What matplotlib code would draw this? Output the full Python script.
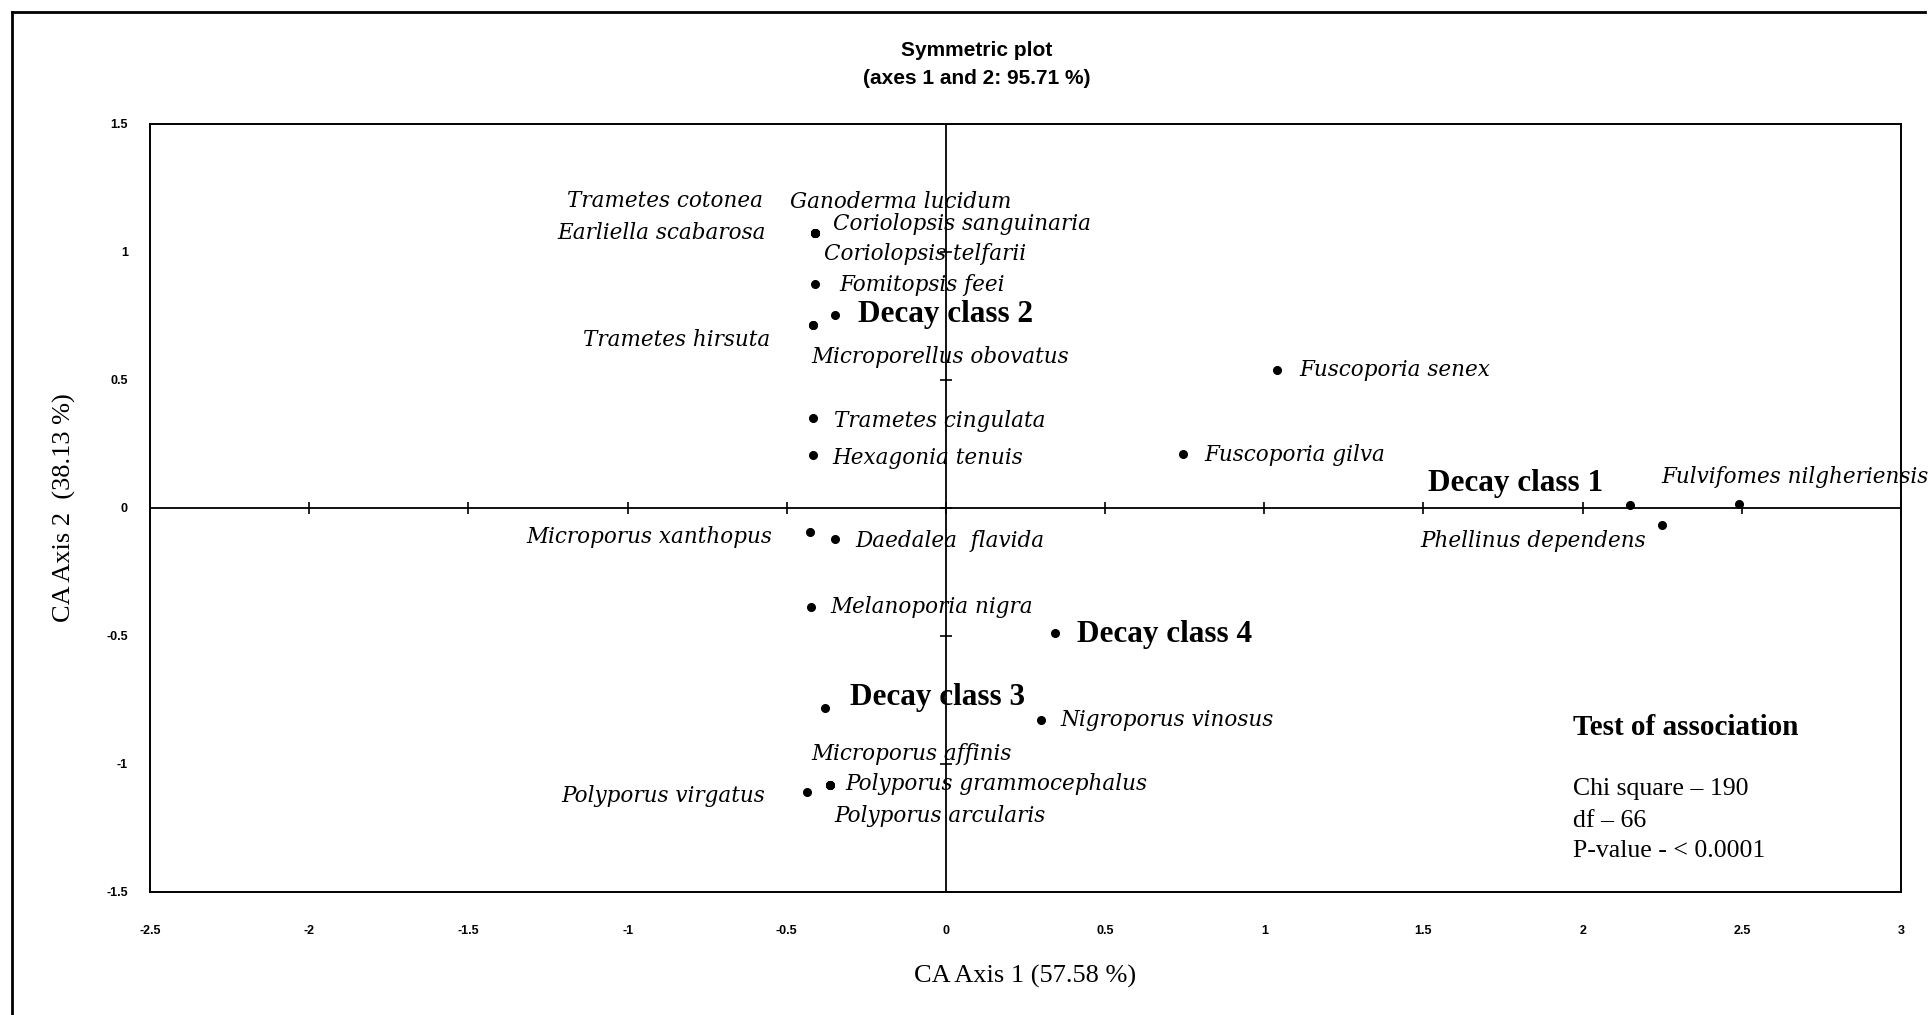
import numpy as np
import matplotlib
matplotlib.use("Agg")
import matplotlib.pyplot as plt
from matplotlib.lines import Line2D

# Correspondence analysis scores (axis 1, axis 2)
species = [
    "Trametes cotonea", "Earliella scabarosa", "Ganoderma lucidum",
    "Coriolopsis sanguinaria", "Coriolopsis telfarii", "Fomitopsis feei",
    "Trametes hirsuta", "Microporellus obovatus", "Trametes cingulata",
    "Hexagonia tenuis", "Fuscoporia senex", "Fuscoporia gilva",
    "Fulvifomes nilgheriensis", "Phellinus dependens", "Microporus xanthopus",
    "Daedalea  flavida", "Melanoporia nigra", "Nigroporus vinosus",
    "Microporus affinis", "Polyporus grammocephalus", "Polyporus arcularis",
    "Polyporus virgatus",
]
species_x = [-0.41, -0.41, -0.41, -0.41, -0.41, -0.41, -0.418, -0.418, -0.418,
             -0.418, 1.04, 0.745, 2.49, 2.25, -0.428, -0.347, -0.425, 0.30,
             -0.365, -0.365, -0.365, -0.437]
species_y = [1.075, 1.075, 1.075, 1.075, 1.075, 0.875, 0.715, 0.715, 0.352,
             0.207, 0.538, 0.212, 0.017, -0.065, -0.092, -0.122, -0.385, -0.827,
             -1.082, -1.082, -1.082, -1.11]

classes = ["Decay class 1", "Decay class 2", "Decay class 3", "Decay class 4"]
class_x = [2.15, -0.347, -0.38, 0.341]
class_y = [0.01, 0.755, -0.78, -0.49]

axis1_pct = 57.58
axis2_pct = 38.13
total_pct = 95.71
chi_square = 190
dof = 66
p_text = "< 0.0001"

xticks = np.arange(-2.5, 3.01, 0.5)
yticks = np.arange(-1.5, 1.51, 0.5)

# label placement: offset in points from the dot, horizontal alignment
species_offsets = [
    (-38, 23, "right"), (-36, 0, "right"), (-18, 22, "left"),
    (13, 6, "left"), (6, -15, "left"), (17, -1, "left"),
    (-31, -11, "right"), (-1, -23, "left"), (15, -2, "left"),
    (14, -2, "left"), (16, 0, "left"), (15, -1, "left"),
    (-56, 19, "left"), (-12, -12, "right"), (-27, -4, "right"),
    (14, -1, "left"), (14, 0, "left"), (14, 0, "left"),
    (-13, 22, "left"), (11, 1, "left"), (3, -22, "left"),
    (-30, -3, "right"),
]
class_offsets = [(-20, 16, "right"), (16, 0, "left"), (18, 7, "left"), (16, -1, "left")]

serif = "Liberation Serif"
wide_serif = "DejaVu Serif"
sans = "Liberation Sans"

fig = plt.figure(figsize=(19.29, 10.15), dpi=100)
ax = fig.add_axes([0.0778, 0.1212, 0.9077, 0.7567])

ax.set_xlim(xticks[0], xticks[-1])
ax.set_ylim(yticks[0], yticks[-1])
for s in ax.spines.values():
    s.set_linewidth(1.4)
    s.set_color("black")

ax.set_xticks(xticks)
ax.set_yticks(yticks)
ax.set_xticklabels([f"{t:g}" for t in xticks])
ax.set_yticklabels([f"{t:g}" for t in yticks])
ax.tick_params(length=0, labelsize=9)
ax.tick_params(axis="x", pad=24)
ax.tick_params(axis="y", pad=16)
for lab in ax.get_xticklabels() + ax.get_yticklabels():
    lab.set_fontfamily(sans)
    lab.set_fontweight("bold")

# axes through the origin with crossing tick marks
ax.axhline(0, color="black", lw=1.3, zorder=1)
ax.axvline(0, color="black", lw=1.3, zorder=1)
ax.plot(xticks, np.zeros_like(xticks), ls="none", marker="|", ms=9, mew=1.2, color="black", zorder=1)
ax.plot(np.zeros_like(yticks), yticks, ls="none", marker="_", ms=9, mew=1.2, color="black", zorder=1)

ax.plot(species_x, species_y, ls="none", marker="o", ms=5.5, color="black", zorder=3)
ax.plot(class_x, class_y, ls="none", marker="o", ms=5.5, color="black", zorder=3)

for name, x, y, (dx, dy, ha) in zip(species, species_x, species_y, species_offsets):
    ax.annotate(name, (x, y), xytext=(dx, dy), textcoords="offset points",
                ha=ha, va="center", fontsize=15.5, fontstyle="italic",
                family=wide_serif, zorder=4)

for name, x, y, (dx, dy, ha) in zip(classes, class_x, class_y, class_offsets):
    ax.annotate(name, (x, y), xytext=(dx, dy), textcoords="offset points",
                ha=ha, va="center", fontsize=22.5, fontweight="bold",
                family=serif, zorder=4)

ax.set_xlabel(f"CA Axis 1 ({axis1_pct} %)", family=serif, fontsize=19, labelpad=20)
ax.set_ylabel(f"CA Axis 2  ({axis2_pct} %)", family=serif, fontsize=19, labelpad=22)

fig.text(0.5065, 0.950, "Symmetric plot", ha="center", va="center",
         family=sans, fontweight="bold", fontsize=15)
fig.text(0.5065, 0.923, f"(axes 1 and 2: {total_pct} %)", ha="center", va="center",
         family=sans, fontweight="bold", fontsize=15)

# test statistics
ax.text(0.8124, 0.2147, "Test of association", transform=ax.transAxes,
        family=serif, fontweight="bold", fontsize=21, va="center")
stats_lines = [f"Chi square \u2013 {chi_square}", f"df \u2013 {dof}", f"P-value - {p_text}"]
for line, yy in zip(stats_lines, [0.1346, 0.093, 0.0529]):
    ax.text(0.8124, yy, line, transform=ax.transAxes, family=serif,
            fontsize=18.5, va="center")

# outer frame
fig.add_artist(Line2D([0.006, 0.006], [-0.01, 0.988], transform=fig.transFigure, color="black", lw=2))
fig.add_artist(Line2D([0.006, 0.998], [0.988, 0.988], transform=fig.transFigure, color="black", lw=2))

fig.savefig("out.png", dpi=100)
